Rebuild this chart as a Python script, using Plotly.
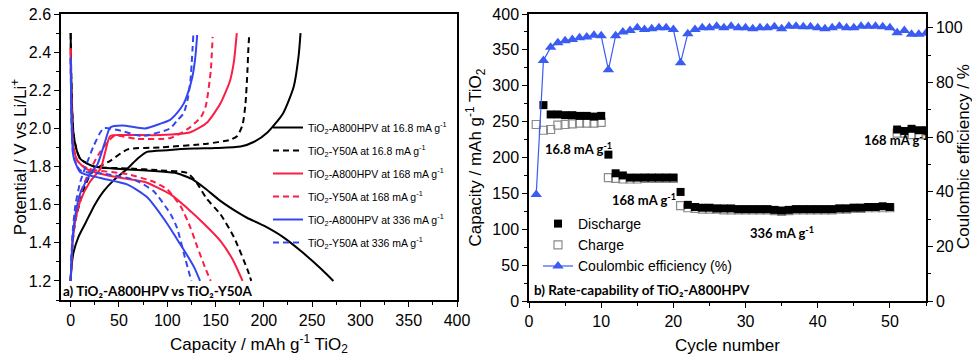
import plotly.graph_objects as go

# ---------------------------------------------------------------
# panel a) galvanostatic curves: capacity (mAh/g) vs potential (V)
# each sample: discharge branch + charge branch
a16_dis_cap = [0, 0.5, 1.5, 3, 6, 10, 24, 59, 90, 110, 127, 138, 155, 176, 183, 200, 220, 240, 260, 272]
a16_dis_v = [2.5, 2.3, 2.1, 1.97, 1.89, 1.84, 1.80, 1.785, 1.775, 1.765, 1.73, 1.69, 1.62, 1.55, 1.53, 1.49, 1.43, 1.35, 1.26, 1.2]
a16_chg_cap = [0, 1, 3, 8, 15, 25, 34, 45, 59, 70, 79, 100, 127, 150, 176, 190, 204, 220, 231, 236, 238]
a16_chg_v = [1.2, 1.28, 1.35, 1.43, 1.5, 1.6, 1.67, 1.73, 1.79, 1.845, 1.877, 1.886, 1.894, 1.897, 1.905, 1.93, 1.98, 2.08, 2.22, 2.38, 2.5]

y16_dis_cap = [0, 0.5, 1.5, 3, 6, 10, 24, 60, 93, 121, 131, 141, 155, 169, 183, 187]
y16_dis_v = [2.5, 2.3, 2.1, 1.97, 1.89, 1.84, 1.80, 1.79, 1.78, 1.766, 1.71, 1.63, 1.55, 1.43, 1.26, 1.2]
y16_chg_cap = [0, 2, 5, 10, 15, 20.7, 30, 41, 59, 93, 141.5, 165, 172.5, 178, 181, 183, 184, 185]
y16_chg_v = [1.2, 1.4, 1.52, 1.62, 1.7, 1.76, 1.80, 1.83, 1.89, 1.90, 1.92, 1.94, 1.96, 2.02, 2.13, 2.3, 2.42, 2.5]

a168_dis_cap = [0, 0.5, 1.5, 3, 7, 17, 41, 76, 103, 121, 138, 155, 168, 178]
a168_dis_v = [2.42, 2.2, 2.0, 1.9, 1.83, 1.785, 1.75, 1.72, 1.655, 1.58, 1.50, 1.41, 1.31, 1.2]
a168_chg_cap = [0, 2, 5, 10, 20, 31, 36, 41, 59, 93, 124, 141, 155, 165, 169, 172]
a168_chg_v = [1.2, 1.4, 1.52, 1.62, 1.72, 1.79, 1.88, 1.96, 1.965, 1.965, 1.98, 2.03, 2.13, 2.25, 2.35, 2.5]

y168_dis_cap = [0, 0.5, 1.5, 3, 7, 17, 59, 86, 100, 114, 124, 131, 140, 145]
y168_dis_v = [2.42, 2.2, 2.0, 1.9, 1.83, 1.79, 1.76, 1.72, 1.68, 1.59, 1.48, 1.38, 1.26, 1.2]
y168_chg_cap = [0, 2, 5, 10, 20, 31, 45, 69, 103.5, 121, 135, 140, 145, 147]
y168_chg_v = [1.2, 1.42, 1.55, 1.66, 1.78, 1.88, 1.96, 1.945, 1.95, 1.996, 2.06, 2.12, 2.3, 2.48]

a336_dis_cap = [0, 0.5, 1.5, 3, 10, 31, 59, 79, 100, 110, 120, 128, 134]
a336_dis_v = [2.37, 2.15, 1.95, 1.85, 1.77, 1.74, 1.705, 1.64, 1.50, 1.42, 1.34, 1.27, 1.2]
a336_chg_cap = [0, 2, 5, 10, 20, 27.6, 35, 41, 53.5, 77, 93, 103, 110, 117, 121, 126, 129, 131]
a336_chg_v = [1.2, 1.42, 1.55, 1.66, 1.76, 1.81, 1.92, 2.005, 2.015, 2.0, 2.025, 2.045, 2.08, 2.13, 2.18, 2.27, 2.37, 2.49]

y336_dis_cap = [0, 0.5, 1.5, 3, 10, 38, 66, 86, 103.5, 110, 119, 125]
y336_dis_v = [2.37, 2.15, 1.95, 1.85, 1.78, 1.76, 1.73, 1.67, 1.55, 1.48, 1.31, 1.2]
y336_chg_cap = [0, 2, 5, 10, 17, 24, 34, 50, 74, 103, 110, 117, 121, 124, 127]
y336_chg_v = [1.2, 1.45, 1.6, 1.72, 1.82, 1.91, 2.0, 1.99, 1.96, 2.0, 2.04, 2.08, 2.15, 2.25, 2.49]

# ---------------------------------------------------------------
# panel b) rate capability
cycles = list(range(1, 56))
discharge = [None, 273, 260, 260, 259, 259, 258, 258, 257, 258,
             204, 178, 175, 172, 172, 172, 172, 172, 172, 172,
             152, 134, 131, 130, 130, 129, 129, 129, 128, 128,
             128, 128, 128, 127, 126, 127, 128, 128, 128, 128,
             128, 128, 129, 129, 130, 130, 131, 131, 132, 131,
             239, 237, 240, 238, 238]
charge = [246, 238, 239, 245, 246, 247, 248, 248, 248, 249,
          172, 171, 170, 170, 170, 171, 171, 171, 171, 171,
          133, 130, 129, 128, 128, 128, 127, 127, 127, 127,
          127, 127, 127, 126, 125, 126, 127, 127, 127, 127,
          127, 127, 128, 128, 129, 129, 130, 130, 130, 130,
          234, 234, 232, 232, 232]
coulombic = [39, 88, 92.8, 94.5, 95.2, 95.7, 96.3, 96.6, 97.2, 97.0,
             84.6, 97.0, 98.4, 99.0, 100, 99.3, 99.6, 100, 100, 99.3,
             87.2, 97.8, 99.3, 100, 100, 100.5, 100, 100.5, 100, 100,
             99.6, 100, 100, 100.3, 99.6, 100.5, 100.5, 100.3, 100.3, 100,
             99.6, 100, 100.5, 100, 100, 100.5, 100.5, 100.5, 100.3, 100,
             98.1, 99, 97.6, 97.6, 98]

BLACK = "#000000"
RED = "#fa1e46"
BLUE = "#3446f0"
CE_BLUE = "#3a5cf2"
FONT = "Liberation Sans, Arial, sans-serif"
BOLD = "Lato, Open Sans, sans-serif"

W, H = 980, 358
OFF = 8                                   # the page body adds an 8px offset
L, R, T, B = 61, 926, 14, 301             # wanted plot area on screen (px)


def px(x):
    return (x - L) / (R - L)


def py(y):
    return (B - y) / (B - T)


def join(c1, v1, c2, v2):
    return c1 + [None] + c2, v1 + [None] + v2


fig = go.Figure()

curves = [
    ("TiO<sub>2</sub>-A800HPV at 16.8 mA g<sup>-1</sup>", BLACK, "solid", a16_dis_cap, a16_dis_v, a16_chg_cap, a16_chg_v),
    ("TiO<sub>2</sub>-Y50A at 16.8 mA g<sup>-1</sup>", BLACK, "dash", y16_dis_cap, y16_dis_v, y16_chg_cap, y16_chg_v),
    ("TiO<sub>2</sub>-A800HPV at 168 mA g<sup>-1</sup>", RED, "solid", a168_dis_cap, a168_dis_v, a168_chg_cap, a168_chg_v),
    ("TiO<sub>2</sub>-Y50A at 168 mA g<sup>-1</sup>", RED, "dash", y168_dis_cap, y168_dis_v, y168_chg_cap, y168_chg_v),
    ("TiO<sub>2</sub>-A800HPV at 336 mA g<sup>-1</sup>", BLUE, "solid", a336_dis_cap, a336_dis_v, a336_chg_cap, a336_chg_v),
    ("TiO<sub>2</sub>-Y50A at 336 mA g<sup>-1</sup>", BLUE, "dash", y336_dis_cap, y336_dis_v, y336_chg_cap, y336_chg_v),
]
for i, (name, col, dash, dc, dv, cc, cv) in enumerate(curves):
    xs, ys = join(dc, dv, cc, cv)
    fig.add_trace(go.Scatter(
        x=xs, y=ys, mode="lines", name=name,
        line=dict(color=col, width=2, dash="6px,4px" if dash == "dash" else "solid",
                  shape="spline", smoothing=0.6),
        xaxis="x", yaxis="y", legend="legend", legendgroup=f"g{i}"
    ))

# panel b traces
fig.add_trace(go.Scatter(
    x=cycles, y=charge, mode="markers", name="Charge",
    marker=dict(symbol="square-open", size=8, color="#8a8a8a", line=dict(width=1.2)),
    xaxis="x2", yaxis="y2", legend="legend2", legendrank=2, legendgroup="c"
))
fig.add_trace(go.Scatter(
    x=cycles, y=discharge, mode="markers", name="Discharge",
    marker=dict(symbol="square", size=8, color=BLACK),
    xaxis="x2", yaxis="y2", legend="legend2", legendrank=1, legendgroup="d"
))
fig.add_trace(go.Scatter(
    x=cycles, y=coulombic, mode="lines+markers", name="Coulombic efficiency (%)",
    line=dict(color=CE_BLUE, width=1.2),
    marker=dict(symbol="triangle-up", size=10, color=CE_BLUE),
    xaxis="x2", yaxis="y3", legend="legend2", legendrank=3, legendgroup="e"
))

axis_common = dict(
    showline=True, linecolor="black", linewidth=1.5, mirror=True,
    ticks="outside", ticklen=5, tickwidth=1.2, tickcolor="black",
    showgrid=False, zeroline=False, automargin=False, ticklabeloverflow="allow",
    tickfont=dict(family=FONT, size=16, color="black"),
    title_font=dict(family=FONT, size=17, color="black"),
)

fig.update_layout(
    width=W, height=H,
    margin=dict(l=L - OFF, r=W - R + OFF, t=T - OFF, b=H - B + OFF),
    plot_bgcolor="white", paper_bgcolor="white",
    font=dict(family=FONT, color="black"),
    xaxis=dict(axis_common, domain=[px(61), px(457)], range=[-10, 400], dtick=50,
               minor=dict(ticks="outside", dtick=25, ticklen=3, tickcolor="black"),
               title=dict(text="Capacity / mAh g<sup>-1</sup> TiO<sub>2</sub>", standoff=10), anchor="y"),
    yaxis=dict(axis_common, domain=[py(300), 1], range=[1.1, 2.6], dtick=0.2, tick0=1.2,
               tickformat=".1f",
               minor=dict(ticks="outside", dtick=0.1, ticklen=3, tickcolor="black"),
               title=dict(text="Potential / V vs Li/Li<sup>+</sup>", standoff=1), anchor="x"),
    xaxis2=dict(axis_common, domain=[px(529), px(926)], range=[0, 55], dtick=10,
                minor=dict(ticks="outside", dtick=5, ticklen=3, tickcolor="black"),
                title=dict(text="Cycle number", standoff=10), anchor="y2"),
    yaxis2=dict(axis_common, mirror=False, domain=[0, 1], range=[0, 400], dtick=50,
                minor=dict(ticks="outside", dtick=25, ticklen=3, tickcolor="black"),
                title=dict(text="Capacity / mAh g<sup>-1</sup> TiO<sub>2</sub>", standoff=6), anchor="x2"),
    yaxis3=dict(axis_common, mirror=False, overlaying="y2", side="right", range=[0, 105], dtick=20,
                minor=dict(ticks="outside", dtick=10, ticklen=3, tickcolor="black"),
                anchor="x2"),
    legend=dict(x=px(268), y=py(113), xanchor="left", yanchor="top",
                bgcolor="rgba(0,0,0,0)", tracegroupgap=4,
                font=dict(family=FONT, size=10.5, color="black")),
    legend2=dict(x=px(538), y=py(208), xanchor="left", yanchor="top",
                 bgcolor="rgba(0,0,0,0)", tracegroupgap=0,
                 font=dict(family=FONT, size=14, color="black")),
)

# right-hand axis title (placed by hand, it sits close to the page edge)
fig.add_annotation(x=px(963), y=py(157), xref="paper", yref="paper",
                   text="Coulombic efficiency / %", textangle=-90, showarrow=False,
                   xanchor="center", yanchor="middle",
                   font=dict(family=FONT, size=17, color="black"))

# rate labels and panel captions
labels = [
    (1.9, 212, "16.8 mA g<sup>-1</sup>"),
    (11.2, 142, "168 mA g<sup>-1</sup>"),
    (30.3, 95, "336 mA g<sup>-1</sup>"),
    (46.1, 225, "168 mA g<sup>-1</sup>"),
]
for xv, yv, txt in labels:
    fig.add_annotation(x=xv, y=yv, xref="x2", yref="y2", text=txt, showarrow=False,
                       xanchor="left", yanchor="middle",
                       font=dict(family=BOLD, size=13, color="black", weight="bold"))

fig.add_annotation(x=-9.5, y=1.148, xref="x", yref="y", text="a) TiO₂-A800HPV vs TiO₂-Y50A",
                   showarrow=False, xanchor="left", yanchor="middle",
                   font=dict(family=BOLD, size=13.5, color="black", weight="bold"))
fig.add_annotation(x=0.4, y=15, xref="x2", yref="y2", text="b) Rate-capability of TiO₂-A800HPV",
                   showarrow=False, xanchor="left", yanchor="middle",
                   font=dict(family=BOLD, size=13.5, color="black", weight="bold"))

fig.write_html("out.html")
